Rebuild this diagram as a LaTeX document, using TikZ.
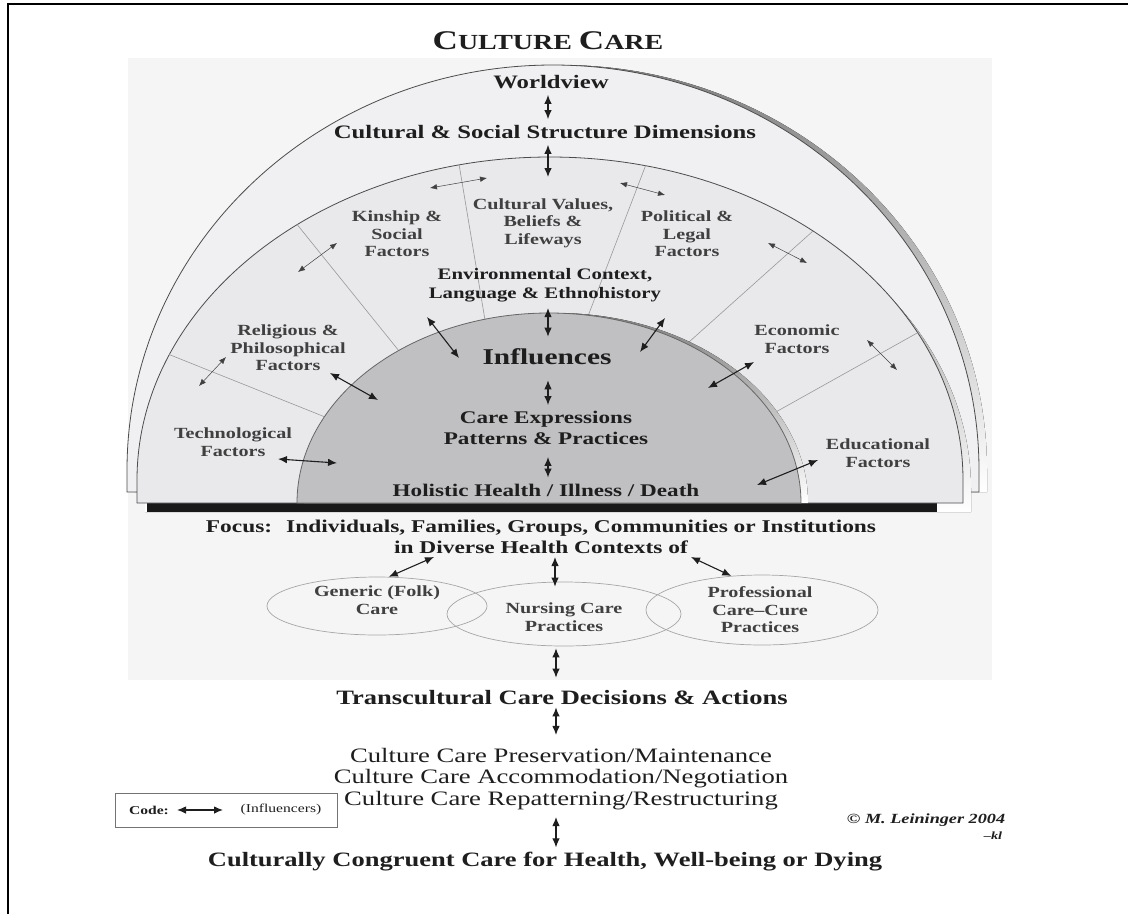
\documentclass[tikz,border=0pt]{standalone}
\usepackage{fontspec}
\setmainfont{Liberation Serif}
\usetikzlibrary{arrows.meta,shapes.geometric}

\definecolor{ink}{HTML}{1E1E1E}
\definecolor{panel}{HTML}{F5F5F6}
\definecolor{bandout}{HTML}{F0F0F2}
\definecolor{bandmid}{HTML}{E9E9EC}
\definecolor{disc}{HTML}{C0C0C2}
\definecolor{shade}{HTML}{575757}

\tikzset{
  lbl/.style={align=center, xscale=1.3, inner sep=2pt, text=ink},
  heading/.style={lbl, font=\bfseries\fontsize{21.5}{22}\selectfont},
  toplbl/.style={lbl, font=\bfseries\fontsize{19}{21}\selectfont},
  factor/.style={lbl, font=\bfseries\fontsize{15.5}{17.5}\selectfont, text=ink!85},
  envlbl/.style={lbl, font=\bfseries\fontsize{16}{19}\selectfont},
  corelbl/.style={lbl, font=\bfseries\fontsize{17.8}{21}\selectfont},
  biglbl/.style={lbl, font=\bfseries\fontsize{20.4}{22}\selectfont},
  modelbl/.style={lbl, font=\fontsize{20.5}{21.5}\selectfont},
  careoval/.style={ellipse, draw=black!35, line width=0.7pt, inner sep=0pt},
  infl/.style={{Latex[length=9pt,width=7.5pt]}-{Latex[length=9pt,width=7.5pt]}, line width=1.1pt, draw=ink},
  chain/.style={infl, shorten >=4pt, shorten <=4pt},
  minor/.style={{Latex[length=7pt,width=5.5pt]}-{Latex[length=7pt,width=5.5pt]}, line width=0.5pt, draw=black!75},
  divider/.style={draw=black!40, line width=0.6pt},
}

\begin{document}
\begin{tikzpicture}[x=1pt, y=-1pt]
  \useasboundingbox (0,0) rectangle (1128,914);
  \fill[white] (0,0) rectangle (1128,914);
  \fill[panel] (128,58) rectangle (992,680);
  \draw[line width=1.6pt] (8,914) -- (8,4) -- (1128,4);

  % outer arch (worldview)
  \fill[shade] (135,492) -- (135,470) arc[start angle=180, end angle=360, x radius=426, y radius=405] -- (987,492) -- cycle;
  \draw[black!70, line width=0.8pt, fill=bandout] (127,492) -- (127,470) arc[start angle=180, end angle=360, x radius=426, y radius=405] -- (979,492) -- cycle;

  % middle arch (factors)
  \fill[shade] (145,512) -- (145,489) arc[start angle=180, end angle=360, x radius=413, y radius=323] -- (971,512) -- cycle;
  \fill[black!90] (147,503) rectangle (937,512);
  \draw[black!70, line width=0.8pt, fill=bandmid] (137,503) -- (137,480) arc[start angle=180, end angle=360, x radius=413, y radius=323] -- (963,503) -- cycle;
  \begin{scope}
    \clip (137,503) -- (137,480) arc[start angle=180, end angle=360, x radius=413, y radius=323] -- (963,503) -- cycle;
    \draw[divider] (118,334) -- (360,431);
    \draw[divider] (279,202) -- (420,377);
    \draw[divider] (455,140) -- (490,350);
    \draw[divider] (655,141) -- (580,337);
    \draw[divider] (832,214) -- (670,359);
    \draw[divider] (944,318) -- (740,432);
  \end{scope}

  % inner disc
  \fill[shade] (304,503) arc[start angle=180, end angle=360, x radius=252, y radius=190] -- cycle;
  \draw[black!60, line width=0.8pt, fill=disc] (297,503) arc[start angle=180, end angle=360, x radius=252, y radius=190] -- cycle;

  \coordinate (axis) at (548,0);
  \coordinate (axis2) at (556,0);

  \node[heading] (title) at (548,41) {{\fontsize{27}{27}\selectfont C}ULTURE {\fontsize{27}{27}\selectfont C}ARE};
  \node[toplbl] (worldview) at (551,82) {Worldview};
  \node[toplbl] (cssd) at (545,132) {Cultural \& Social Structure Dimensions};
  \coordinate (band) at (548,177);

  \node[factor] (kin) at (397,234) {Kinship \&\\Social\\Factors};
  \node[factor] (cv) at (543,223) {Cultural Values,\\Beliefs \&\\Lifeways};
  \node[factor] (pol) at (687,234) {Political \&\\Legal\\Factors};
  \node[factor] (rel) at (288,348) {Religious \&\\Philosophical\\Factors};
  \node[factor] (tech) at (233,442) {Technological\\Factors};
  \node[factor] (econ) at (797,339) {Economic\\Factors};
  \node[factor] (edu) at (878,453) {Educational\\Factors};

  \node[envlbl] (env) at (545,285) {Environmental Context,\\Language \& Ethnohistory};
  \node[lbl, font=\bfseries\fontsize{22.6}{24}\selectfont] (influences) at (547,357) {Influences};
  \node[corelbl] (care) at (546,428) {Care Expressions\\Patterns \& Practices};
  \node[corelbl] (holistic) at (546,490) {Holistic Health / Illness / Death};

  \draw[chain] (worldview.south -| axis) -- (cssd.north -| axis);
  \draw[chain, shorten >=0pt] (cssd.south -| axis) -- (band);
  \draw[chain, shorten >=10pt] (env.south -| axis) -- (influences.north -| axis);
  \draw[chain, shorten <=13pt] (influences.south -| axis) -- (care.north -| axis);
  \draw[chain, shorten <=10pt] (care.south -| axis) -- (holistic.north -| axis);

  \coordinate (envL1) at (427,317); \coordinate (envL2) at (459,358);
  \coordinate (envR1) at (665,318); \coordinate (envR2) at (640,352);
  \coordinate (relA) at (330,373);  \coordinate (relB) at (378,400);
  \coordinate (techA) at (278,459); \coordinate (techB) at (337,463);
  \coordinate (econA) at (754,362); \coordinate (econB) at (708,388);
  \coordinate (eduA) at (818,460);  \coordinate (eduB) at (757,485);
  \draw[infl] (envL1) -- (envL2);
  \draw[infl] (envR1) -- (envR2);
  \draw[infl] (relA) -- (relB);
  \draw[infl] (techA) -- (techB);
  \draw[infl] (econA) -- (econB);
  \draw[infl] (eduA) -- (eduB);

  \coordinate (t1a) at (199,386); \coordinate (t1b) at (226,357);
  \coordinate (t2a) at (298,272); \coordinate (t2b) at (337,243);
  \coordinate (t3a) at (430,188); \coordinate (t3b) at (487,178);
  \coordinate (t4a) at (620,183); \coordinate (t4b) at (665,195);
  \coordinate (t5a) at (768,243); \coordinate (t5b) at (807,263);
  \coordinate (t6a) at (867,340); \coordinate (t6b) at (897,370);
  \draw[minor] (t1a) -- (t1b);
  \draw[minor] (t2a) -- (t2b);
  \draw[minor] (t3a) -- (t3b);
  \draw[minor] (t4a) -- (t4b);
  \draw[minor] (t5a) -- (t5b);
  \draw[minor] (t6a) -- (t6b);

  % focus and care systems
  \node[lbl, font=\bfseries\fontsize{18}{21}\selectfont] (focus) at (541,537) {Focus:\hspace{0.6em}Individuals, Families, Groups, Communities or Institutions\\in Diverse Health Contexts of};

  \node[careoval, minimum width=220pt, minimum height=58pt] (gen) at (377,606) {};
  \node[careoval, minimum width=234pt, minimum height=64pt] (nur) at (564,614) {};
  \node[careoval, minimum width=232pt, minimum height=70pt] (pro) at (762,610) {};
  \node[factor] (gentxt) at (377,600) {Generic (Folk)\\Care};
  \node[factor] (nurtxt) at (564,617) {Nursing Care\\Practices};
  \node[factor] (protxt) at (760,610) {Professional\\Care--Cure\\Practices};

  \coordinate (fg) at (434,557);
  \coordinate (fn) at (555,557);
  \coordinate (fp) at (691,557);
  \draw[infl] (fg) -- (gen.68);
  \draw[infl, shorten >=-5pt] (fn) -- (fn |- nur.north);
  \draw[infl] (fp) -- (pro.132);

  % decisions and actions
  \node[biglbl] (trans) at (562,698) {Transcultural Care Decisions \& Actions};
  \node[modelbl] (modes) at (561,779) {Culture Care Preservation/Maintenance\\Culture Care Accommodation/Negotiation\\Culture Care Repatterning/Restructuring};
  \node[biglbl] (congruent) at (545,862) {Culturally Congruent Care for Health, Well-being or Dying};

  \draw[chain, shorten <=2pt, shorten >=11pt] (nur.south -| axis2) -- (trans.north -| axis2);
  \draw[chain, shorten <=0pt, shorten >=11pt] (trans.south -| axis2) -- (modes.north -| axis2);
  \draw[chain, shorten <=5pt, shorten >=3pt] (modes.south -| axis2) -- (congruent.north -| axis2);

  % legend and credit
  \node[draw=black!55, line width=0.6pt, minimum width=222pt, minimum height=34pt, inner sep=0pt] (code) at (226,810) {};
  \node[lbl, font=\bfseries\fontsize{12}{14}\selectfont] (codelbl) at (149,810) {Code:};
  \node[lbl, font=\fontsize{12}{14}\selectfont] (codeinf) at (281,810) {(Influencers)};
  \coordinate (codeA) at (177,810); \coordinate (codeB) at (223,810);
  \draw[infl] (codeA) -- (codeB);

  \node[lbl, font=\bfseries\itshape\fontsize{14}{16}\selectfont] (credit) at (926,820) {\textcopyright\ M. Leininger 2004};
  \node[lbl, font=\bfseries\itshape\fontsize{11}{13}\selectfont, anchor=east] (initials) at (1005,836) {--kl};
\end{tikzpicture}
\end{document}
